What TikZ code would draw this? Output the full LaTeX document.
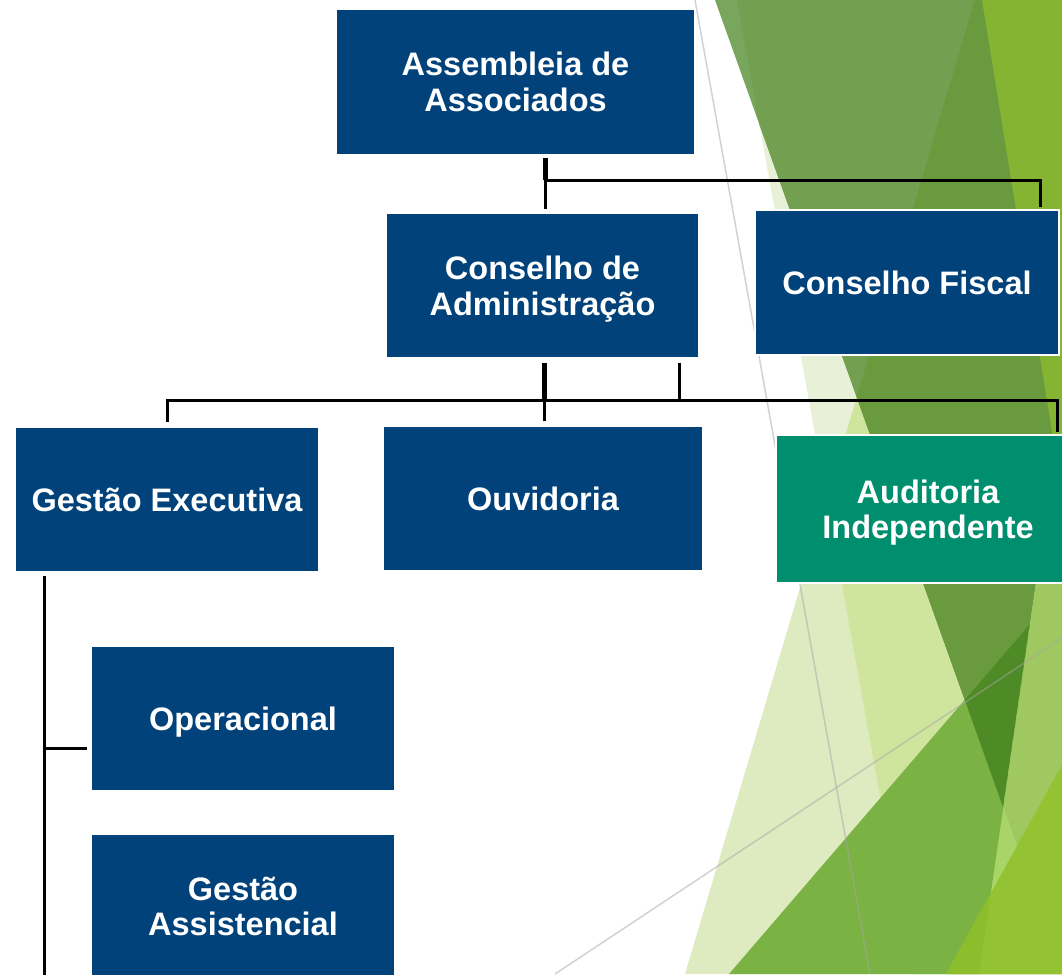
\documentclass[tikz,border=0pt]{standalone}
\usepackage{fontspec}
\newfontfamily\boxfont{Liberation Sans}
\newcommand{\nodesc}[1]{\raisebox{0pt}[\height][0pt]{#1}}
\definecolor{boxblue}{RGB}{1,66,122}
\definecolor{boxteal}{RGB}{0,143,110}
\definecolor{cE}{RGB}{232,240,216}
\definecolor{cD}{RGB}{222,235,192}
\definecolor{cED}{RGB}{207,229,157}
\definecolor{cAw}{RGB}{120,166,92}
\definecolor{cAE}{RGB}{114,160,80}
\definecolor{cAED}{RGB}{106,154,62}
\definecolor{cB}{RGB}{133,179,50}
\definecolor{cF}{RGB}{160,200,96}
\definecolor{cFl}{RGB}{168,212,104}
\definecolor{cG}{RGB}{122,178,67}
\definecolor{cGA}{RGB}{78,138,37}
\definecolor{cH}{RGB}{147,194,50}
\definecolor{cHl}{RGB}{140,189,44}
\begin{document}
\begin{tikzpicture}[x=1pt,y=-1pt,
  orgbox/.style={fill=boxblue, draw=white, line width=1.5pt, text=white,
    inner sep=0pt, outer sep=0pt, align=center,
    font=\boxfont\bfseries\fontsize{32.5}{35.5}\selectfont},
  conn/.style={draw=black, line width=3pt},
  connthick/.style={draw=black, line width=5pt},
  facetline/.style={draw=gray!70, opacity=0.5, line width=1.5pt}]
\useasboundingbox (0,0) rectangle (1062,974);
\begin{scope}
\clip (0,0) rectangle (1062,974);
\fill[white] (0,0) rectangle (1062,974);
% ---- background facets ----
\fill[cE] (737,0) -- (1200,0) -- (1200,974) -- (912,974) -- cycle;
\fill[cD] (975,0) -- (1200,0) -- (1200,974) -- (685,974) -- cycle;
\begin{scope}
  \clip (737,0) -- (1200,0) -- (1200,974) -- (912,974) -- cycle;
  \fill[cED] (975,0) -- (1200,0) -- (1200,974) -- (685,974) -- cycle;
\end{scope}
\fill[cAw] (715,0) -- (1121,0) -- (1003,807) -- cycle;
\begin{scope}
  \clip (737,0) -- (1200,0) -- (1200,974) -- (912,974) -- cycle;
  \fill[cAE] (715,0) -- (1121,0) -- (1003,807) -- cycle;
  \clip (975,0) -- (1200,0) -- (1200,974) -- (685,974) -- cycle;
  \fill[cAED] (715,0) -- (1121,0) -- (1003,807) -- cycle;
\end{scope}
\fill[cF] (1121,0) -- (1200,0) -- (1200,974) -- (979,974) -- cycle;
\begin{scope}
  \clip (0,0) -- (715,0) -- (1063,974) -- (0,974) -- cycle;
  \fill[cFl] (1121,0) -- (1200,0) -- (1200,974) -- (979,974) -- cycle;
\end{scope}
\fill[cB] (982,0) -- (1200,0) -- (1200,974) -- (1140,974) -- cycle;
\fill[cG] (1030,624) -- (729,974) -- (979,974) -- cycle;
\begin{scope}
  \clip (715,0) -- (1121,0) -- (1003,807) -- cycle;
  \fill[cGA] (1030,624) -- (729,974) -- (979,974) -- cycle;
\end{scope}
\fill[cH] (1098,700) -- (1200,700) -- (1200,974) -- (946,974) -- cycle;
\begin{scope}
  \clip (0,0) -- (1121,0) -- (979,974) -- (0,974) -- cycle;
  \fill[cHl] (1098,700) -- (1200,700) -- (1200,974) -- (946,974) -- cycle;
\end{scope}
\draw[facetline] (695,0) -- (870,974);
\draw[facetline] (555,974) -- (1062,638);
% ---- boxes ----
\node[orgbox, minimum width=359pt, minimum height=146pt] (asm) at (515.5,82) {Assembleia de\\Associados};
\node[orgbox, minimum width=313pt, minimum height=145pt] (cadm) at (542.5,285.5) {Conselho de\\\nodesc{Administração}};
\node[orgbox, minimum width=304pt, minimum height=145pt] (cfis) at (907,282.5) {Conselho Fiscal};
\node[orgbox, minimum width=304pt, minimum height=145pt] (gexe) at (167,499.5) {Gestão Executiva};
\node[orgbox, minimum width=320pt, minimum height=145pt] (ouv) at (543,498.5) {Ouvidoria};
\node[orgbox, fill=boxteal, minimum width=304pt, minimum height=148pt] (aud) at (928,509) {Auditoria\\\nodesc{Independente}};
\node[orgbox, minimum width=304pt, minimum height=145pt] (oper) at (243,718.5) {\nodesc{Operacional}};
\node[orgbox, minimum width=304pt, minimum height=145pt] (gass) at (243,906.5) {Gestão\\Assistencial};
% ---- connectors ----
\coordinate (j1) at (545,180);
\coordinate (j1r) at (1040,180);
\coordinate (j2) at (544,400);
\coordinate (j2b) at (679,400);
\coordinate (j2l) at (167,400);
\coordinate (j2r) at (1057,400);
\coordinate (j3) at (44,748);
\coordinate (j3b) at (44,990);
\draw[connthick, shorten <=3pt] (asm.south -| j1) -- (j1);
\draw[conn, shorten >=4pt] (j1) -- (cadm.north -| j1);
\draw[conn, shorten >=3pt] (j1) -- (j1r) -- (j1r |- cfis.north);
\draw[connthick, shorten <=5pt] (cadm.south -| j2) -- (j2);
\draw[conn, shorten <=5pt] (cadm.south -| j2b) -- (j2b);
\draw[conn, shorten >=5pt] (j2) -- (ouv.north -| j2);
\draw[conn, shorten <=5pt, shorten >=3pt] (j2l |- gexe.north) -- (j2l) -- (j2r) -- (j2r |- aud.north);
\draw[conn, shorten <=4pt] (gexe.south -| j3) -- (j3b);
\draw[conn, shorten >=4pt] (j3) -- (oper.west |- j3);
\end{scope}
\end{tikzpicture}
\end{document}
